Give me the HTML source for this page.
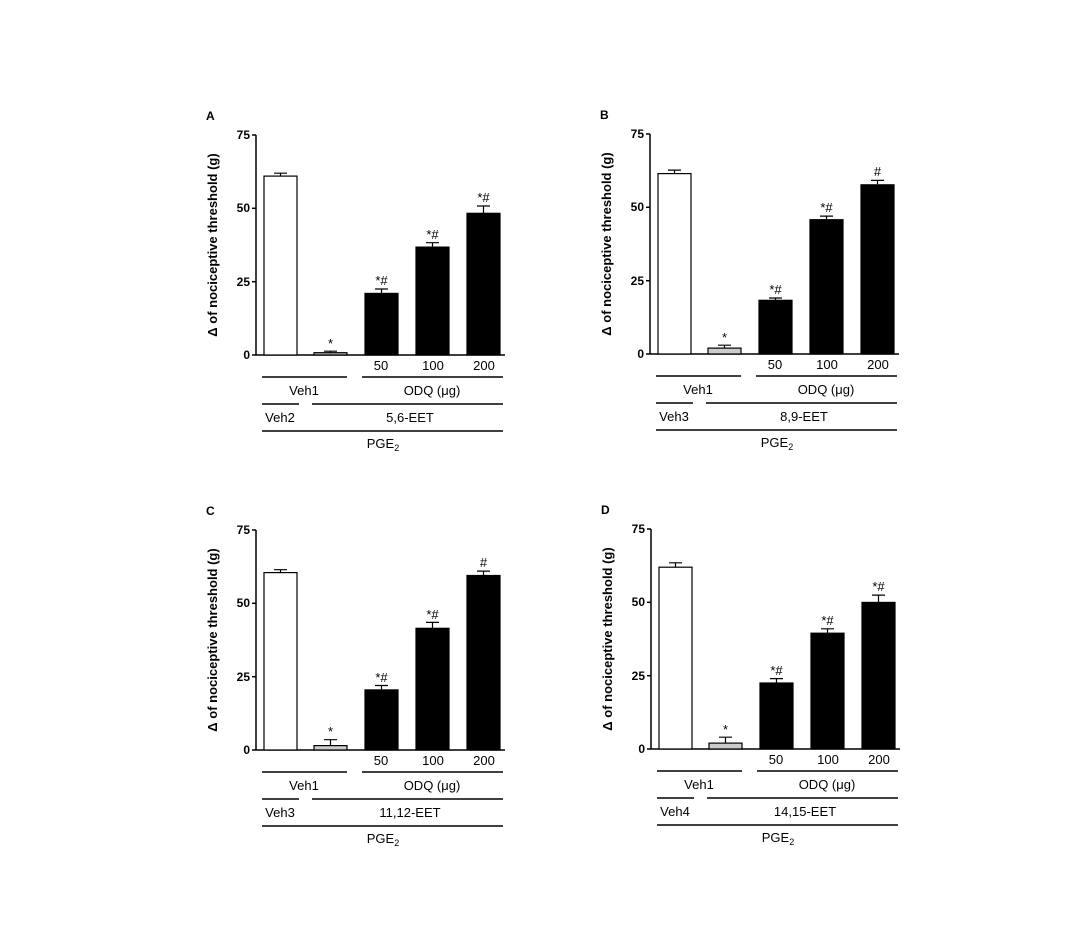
<!DOCTYPE html>
<html><head><meta charset="utf-8"><style>
html,body{margin:0;padding:0;background:#fff;}
svg{display:block;font-family:"Liberation Sans",Arial,sans-serif;}
.t{font-size:12px;font-weight:bold;}
.g{font-size:13px;}
</style></head><body>
<svg width="1082" height="925" viewBox="0 0 1082 925" xmlns="http://www.w3.org/2000/svg">
<defs>
<g id="axes" stroke="#000" stroke-width="1.5" fill="none">
<line x1="256" y1="135" x2="256" y2="355"/>
<line x1="256" y1="355" x2="505" y2="355"/>
<line x1="252" y1="135" x2="256" y2="135"/>
<line x1="252" y1="281.7" x2="256" y2="281.7"/>
<line x1="252" y1="208.3" x2="256" y2="208.3"/>
<line x1="252" y1="355" x2="256" y2="355"/>
<line x1="262" y1="377" x2="347" y2="377"/>
<line x1="362" y1="377" x2="503" y2="377"/>
<line x1="262" y1="404" x2="299" y2="404"/>
<line x1="312" y1="404" x2="503" y2="404"/>
<line x1="262" y1="431" x2="503" y2="431"/>
</g>
<g id="ticks">
<text class="t" x="250" y="139" text-anchor="end">75</text>
<text class="t" x="250" y="286" text-anchor="end">25</text>
<text class="t" x="250" y="212" text-anchor="end">50</text>
<text class="t" x="250" y="359" text-anchor="end">0</text>
<text class="t" transform="translate(217,245) rotate(-90)" text-anchor="middle" style="font-size:13px">Δ of nociceptive threshold (g)</text>
<text class="g" x="381" y="370" text-anchor="middle">50</text>
<text class="g" x="433" y="370" text-anchor="middle">100</text>
<text class="g" x="484" y="370" text-anchor="middle">200</text>
<text class="g" x="304" y="395" text-anchor="middle">Veh1</text>
<text class="g" x="432" y="395" text-anchor="middle">ODQ (μg)</text>
<text class="g" x="383" y="448" text-anchor="middle">PGE<tspan font-size="9" dy="3">2</tspan></text>
</g>
</defs>

<!-- Panel A -->
<g>
<use href="#axes"/><use href="#ticks"/>
<text class="t" x="206" y="120">A</text>
<text class="g" x="280" y="422" text-anchor="middle">Veh2</text>
<text class="g" x="410" y="422" text-anchor="middle">5,6-EET</text>
<g stroke="#000" stroke-width="1.2">
<rect x="264" y="176.1" width="33" height="178.9" fill="#fff"/>
<rect x="314" y="352.7" width="33" height="2.3" fill="#bbb"/>
<rect x="365" y="293.4" width="33" height="61.6" fill="#000"/>
<rect x="416" y="247.1" width="33" height="107.9" fill="#000"/>
<rect x="467" y="213.3" width="33" height="141.7" fill="#000"/>
<path d="M280.5 176V173.2M274 173.2H287 M330.5 352.7V351.2M324 351.2H337 M381.5 293V289M375 289H388 M432.5 247V242.7M426 242.7H439 M483.5 213V206M477 206H490" fill="none"/>
</g>
<g class="g" text-anchor="middle">
<text x="330.5" y="348">*</text><text x="381.5" y="285">*#</text><text x="432.5" y="239">*#</text><text x="483.5" y="202">*#</text>
</g>
</g>

<!-- Panel B -->
<g transform="translate(394,-1)">
<use href="#axes"/><use href="#ticks"/>
<text class="t" x="206" y="120">B</text>
<text class="g" x="280" y="422" text-anchor="middle">Veh3</text>
<text class="g" x="410" y="422" text-anchor="middle">8,9-EET</text>
<g stroke="#000" stroke-width="1.2">
<rect x="264" y="174.6" width="33" height="180.4" fill="#fff"/>
<rect x="314" y="349.1" width="33" height="5.9" fill="#ccc"/>
<rect x="365" y="301.3" width="33" height="53.7" fill="#000"/>
<rect x="416" y="220.7" width="33" height="134.3" fill="#000"/>
<rect x="467" y="185.8" width="33" height="169.2" fill="#000"/>
<path d="M280.5 174.6V171.1M274 171.1H287 M330.5 349V346.2M324 346.2H337 M381.5 301V299M375 299H388 M432.5 220V217.1M426 217.1H439 M483.5 185V181.4M477 181.4H490" fill="none"/>
</g>
<g class="g" text-anchor="middle">
<text x="330.5" y="343">*</text><text x="381.5" y="295">*#</text><text x="432.5" y="213">*#</text><text x="483.5" y="177">#</text>
</g>
</g>

<!-- Panel C -->
<g transform="translate(0,395)">
<use href="#axes"/><use href="#ticks"/>
<text class="t" x="206" y="120">C</text>
<text class="g" x="280" y="422" text-anchor="middle">Veh3</text>
<text class="g" x="410" y="422" text-anchor="middle">11,12-EET</text>
<g stroke="#000" stroke-width="1.2">
<rect x="264" y="177.6" width="33" height="177.4" fill="#fff"/>
<rect x="314" y="350.6" width="33" height="4.4" fill="#ccc"/>
<rect x="365" y="294.9" width="33" height="60.1" fill="#000"/>
<rect x="416" y="233.3" width="33" height="121.7" fill="#000"/>
<rect x="467" y="180.5" width="33" height="174.5" fill="#000"/>
<path d="M280.5 177.6V174.7M274 174.7H287 M330.5 350.6V344.7M324 344.7H337 M381.5 295V290.5M375 290.5H388 M432.5 233V227.4M426 227.4H439 M483.5 180V176.1M477 176.1H490" fill="none"/>
</g>
<g class="g" text-anchor="middle">
<text x="330.5" y="341">*</text><text x="381.5" y="287">*#</text><text x="432.5" y="224">*#</text><text x="483.5" y="172">#</text>
</g>
</g>

<!-- Panel D -->
<g transform="translate(395,394)">
<use href="#axes"/><use href="#ticks"/>
<text class="t" x="206" y="120">D</text>
<text class="g" x="280" y="422" text-anchor="middle">Veh4</text>
<text class="g" x="410" y="422" text-anchor="middle">14,15-EET</text>
<g stroke="#000" stroke-width="1.2">
<rect x="264" y="173.2" width="33" height="181.8" fill="#fff"/>
<rect x="314" y="349.1" width="33" height="5.9" fill="#ccc"/>
<rect x="365" y="289" width="33" height="66" fill="#000"/>
<rect x="416" y="239.2" width="33" height="115.8" fill="#000"/>
<rect x="467" y="208.4" width="33" height="146.6" fill="#000"/>
<path d="M280.5 173.2V168.8M274 168.8H287 M330.5 349V343.2M324 343.2H337 M381.5 289V284.6M375 284.6H388 M432.5 239V234.8M426 234.8H439 M483.5 208V201.1M477 201.1H490" fill="none"/>
</g>
<g class="g" text-anchor="middle">
<text x="330.5" y="340">*</text><text x="381.5" y="281">*#</text><text x="432.5" y="231">*#</text><text x="483.5" y="197">*#</text>
</g>
</g>
</svg>
</body></html>
